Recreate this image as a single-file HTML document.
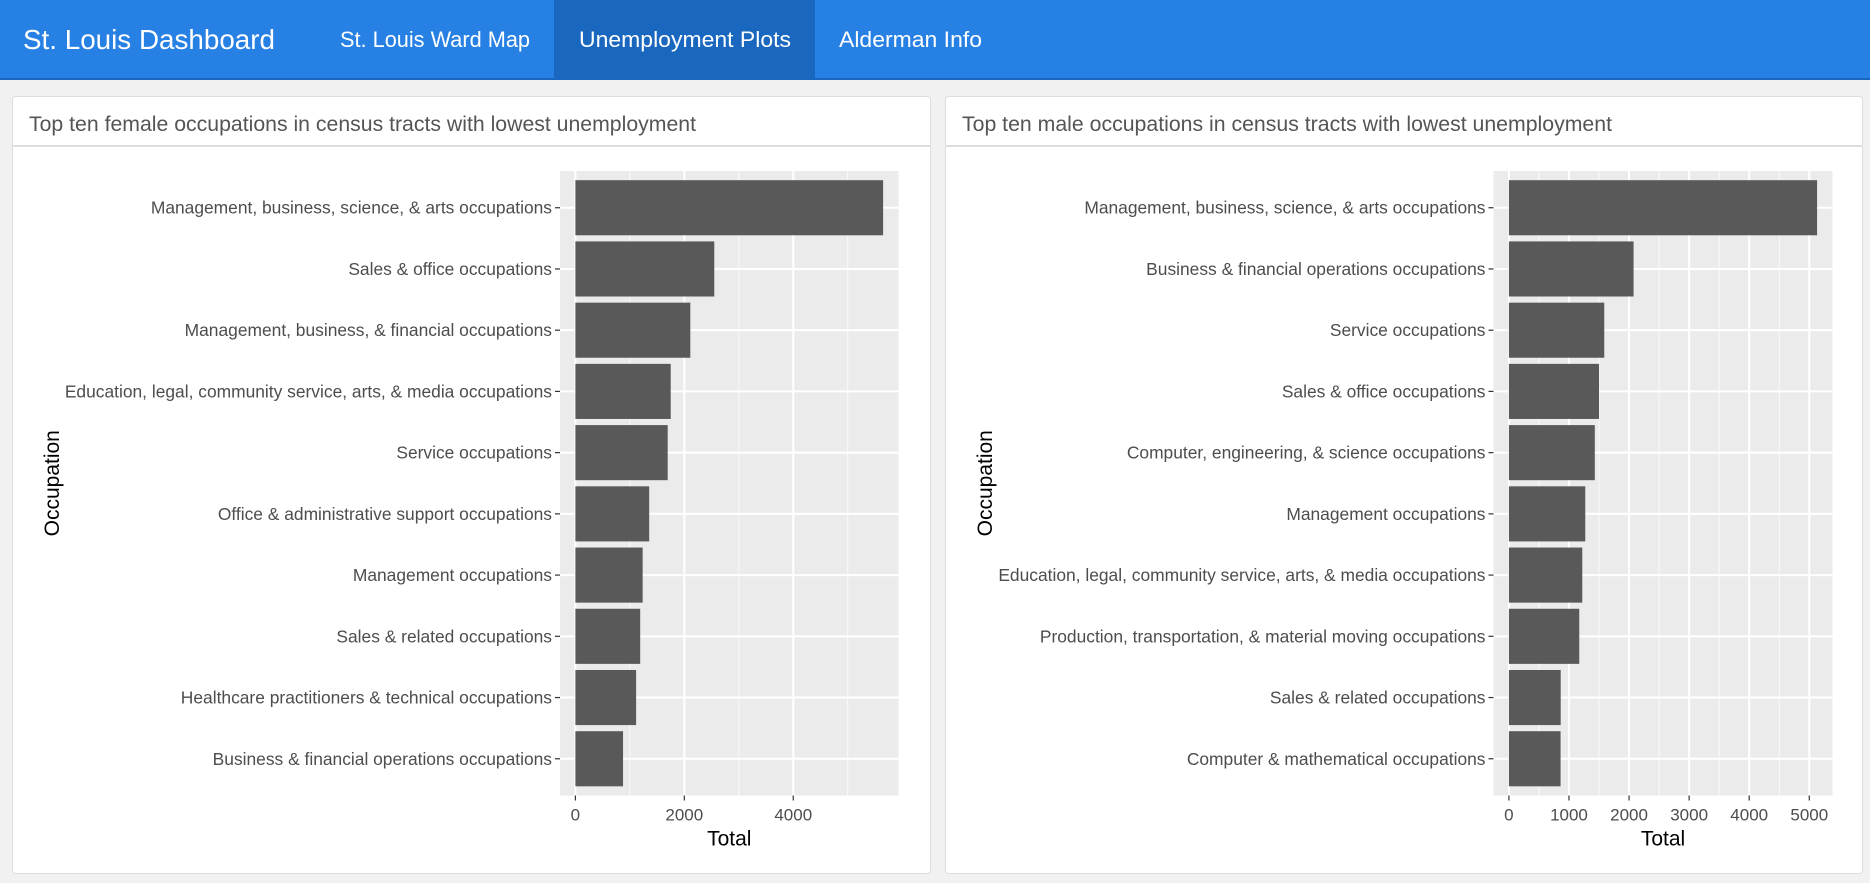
<!DOCTYPE html>
<html><head><meta charset="utf-8">
<style>
html,body{margin:0;padding:0;width:1870px;height:883px;overflow:hidden;background:#f1f1f1;font-family:"Liberation Sans",sans-serif;}
svg{display:block}
</style></head>
<body>
<svg id="page" width="1870" height="883" viewBox="0 0 1870 883">
  <rect x="0" y="0" width="1870" height="80" fill="#2780e3"/>
  <rect x="0" y="78" width="1870" height="2" fill="#1967be"/>
  <text x="23" y="49" font-size="28" fill="#fff" textLength="252" lengthAdjust="spacingAndGlyphs">St. Louis Dashboard</text>
  <text x="340" y="47" font-size="22" fill="#fff" textLength="190" lengthAdjust="spacingAndGlyphs">St. Louis Ward Map</text>
  <rect x="554" y="0" width="261" height="78" fill="#1967be"/>
  <text x="579" y="47" font-size="22" fill="#fff" textLength="212" lengthAdjust="spacingAndGlyphs">Unemployment Plots</text>
  <text x="839" y="47" font-size="22" fill="#fff" textLength="143" lengthAdjust="spacingAndGlyphs">Alderman Info</text>

  <g>
    <rect x="12.5" y="96.5" width="918" height="777" fill="#fff" stroke="#ddd" rx="3"/>
    <rect x="13" y="145" width="917" height="2" fill="#ddd"/>
    <text x="29" y="131" font-size="21" fill="#555" textLength="667" lengthAdjust="spacingAndGlyphs">Top ten female occupations in census tracts with lowest unemployment</text>
    <g id="chartF"></g>
  </g>
  <g>
    <rect x="945.5" y="96.5" width="917" height="777" fill="#fff" stroke="#ddd" rx="3"/>
    <rect x="946" y="145" width="916" height="2" fill="#ddd"/>
    <text x="962" y="131" font-size="21" fill="#555" textLength="650" lengthAdjust="spacingAndGlyphs">Top ten male occupations in census tracts with lowest unemployment</text>
    <g id="chartM"></g>
  </g>
</svg>
<script>
const femaleCategories = ["Management, business, science, & arts occupations","Sales & office occupations","Management, business, & financial occupations","Education, legal, community service, arts, & media occupations","Service occupations","Office & administrative support occupations","Management occupations","Sales & related occupations","Healthcare practitioners & technical occupations","Business & financial operations occupations"];
const femaleValues = [5650, 2550, 2110, 1750, 1695, 1355, 1235, 1190, 1115, 875];
const femaleTicks = [0, 2000, 4000];
const femaleTickLabels = ["0", "2000", "4000"];

const maleCategories = ["Management, business, science, & arts occupations","Business & financial operations occupations","Service occupations","Sales & office occupations","Computer, engineering, & science occupations","Management occupations","Education, legal, community service, arts, & media occupations","Production, transportation, & material moving occupations","Sales & related occupations","Computer & mathematical occupations"];
const maleValues = [5130, 2075, 1587, 1500, 1430, 1271, 1221, 1171, 862, 860];
const maleTicks = [0, 1000, 2000, 3000, 4000, 5000];
const maleTickLabels = ["0", "1000", "2000", "3000", "4000", "5000"];

const NS = "http://www.w3.org/2000/svg";
function mk(tag, attrs, parent){const e=document.createElementNS(NS,tag);for(const k in attrs)e.setAttribute(k,attrs[k]);parent.appendChild(e);return e;}

function drawChart(g, cats, vals, ticks, tickLabels, px0, px1, py0, py1, prefix){
  const maxV = Math.max(...vals);
  const pad = maxV*0.05;
  const dMin = -pad, dMax = maxV + pad;
  const x = v => px0 + (v - dMin)/(dMax - dMin)*(px1 - px0);
  const n = cats.length;
  const unit = (py1 - py0)/(n + 0.2);
  const y = i => py0 + (0.6 + i)*unit;
  const bg = mk("rect",{x:px0,y:py0,width:px1-px0,height:py1-py0,fill:"#ebebeb"},g);
  
  
  const step = ticks[1]-ticks[0];
  for(let t=ticks[0]-step/2; t<=dMax; t+=step){
    if(t<dMin) continue;
    const l = mk("line",{x1:x(t),x2:x(t),y1:py0,y2:py1,stroke:"#fafafa","stroke-width":1},g);
    
    
  }
  ticks.forEach(t=>{
    const l = mk("line",{x1:x(t),x2:x(t),y1:py0,y2:py1,stroke:"#fff","stroke-width":2},g);
    
    
  });
  cats.forEach((c,i)=>{
    const l = mk("line",{x1:px0,x2:px1,y1:y(i),y2:y(i),stroke:"#fff","stroke-width":2},g);
    
    
  });
  cats.forEach((c,i)=>{
    const h = unit*0.9;
    const b = mk("rect",{x:x(0),y:y(i)-h/2,width:x(vals[i])-x(0),height:h,fill:"#595959"},g);
    
    
    const tk = mk("line",{x1:px0-5,x2:px0,y1:y(i),y2:y(i),stroke:"#333","stroke-width":1.2},g);
    
    
    const t = mk("text",{x:px0-8,y:y(i)+6,"font-size":17.4,fill:"#4d4d4d","text-anchor":"end"},g);
    t.textContent = c;
    
    
  });
  ticks.forEach((tv,i)=>{
    const tk = mk("line",{x1:x(tv),x2:x(tv),y1:py1,y2:py1+5,stroke:"#333","stroke-width":1.2},g);
    
    
    const t = mk("text",{x:x(tv),y:py1+25,"font-size":17,fill:"#4d4d4d","text-anchor":"middle"},g);
    t.textContent = tickLabels[i];
    
    
  });
  const xt = mk("text",{x:(px0+px1)/2,y:py1+50,"font-size":21,fill:"#000","text-anchor":"middle"},g);
  xt.textContent = "Total";
  
  
  const cy = (py0+py1)/2;
  const cx = prefix==='female' ? 59 : 992;
  const yt = mk("text",{x:cx,y:cy,"font-size":21,fill:"#000","text-anchor":"middle",transform:"rotate(-90 "+cx+" "+cy+")"},g);
  yt.textContent = "Occupation";
  
  
}
drawChart(document.getElementById('chartF'), femaleCategories, femaleValues, femaleTicks, femaleTickLabels, 560, 898.5, 171, 795.5, 'female');
drawChart(document.getElementById('chartM'), maleCategories, maleValues, maleTicks, maleTickLabels, 1493.5, 1832.5, 171, 795.5, 'male');
</script>
</body></html>
